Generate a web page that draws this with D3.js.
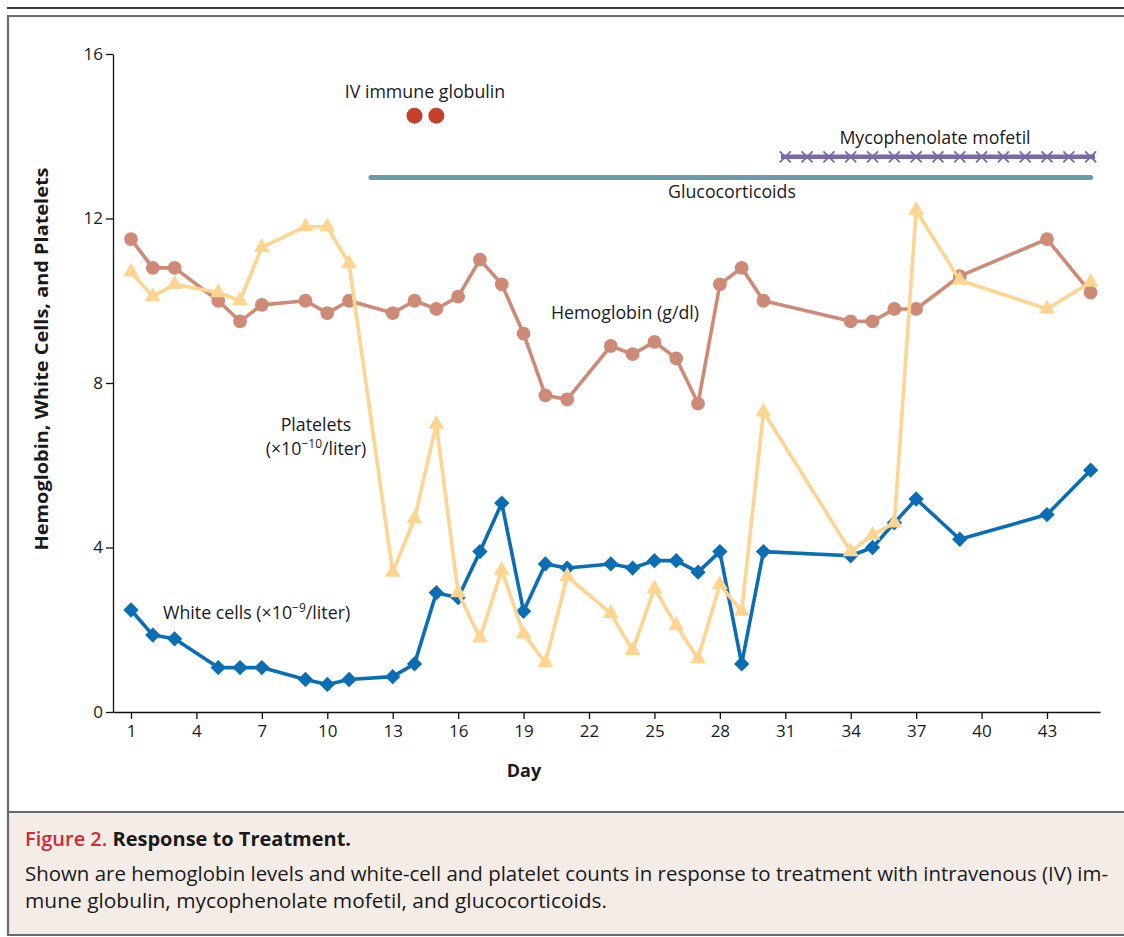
<!DOCTYPE html>
<html>
<head>
<meta charset="utf-8">
<script src="https://cdn.jsdelivr.net/npm/d3@7"></script>
<style>
  html, body { margin: 0; padding: 0; background: #ffffff; }
  svg { display: block; }
  text { font-family: "Open Sans", "DejaVu Sans", sans-serif; fill: #1a1a1a; }
</style>
</head>
<body>
<svg id="chart" width="1124" height="937"></svg>
<script>
// ---------------- DATA ----------------
const hbDays = [1,2,3,5,6,7,9,10,11,13,14,15,16,17,18,19,20,21,23,24,25,26,27,28,29,30,34,35,36,37,39,43,45];
const hbValues = [11.5,10.8,10.8,10.0,9.5,9.9,10.0,9.7,10.0,9.7,10.0,9.8,10.1,11.0,10.4,9.2,7.7,7.6,8.9,8.7,9.0,8.6,7.5,10.4,10.8,10.0,9.5,9.5,9.8,9.8,10.6,11.5,10.2];

const pltDays = [1,2,3,5,6,7,9,10,11,13,14,15,16,17,18,19,20,21,23,24,25,26,27,28,29,30,34,35,36,37,39,43,45];
const pltValues = [10.7,10.1,10.4,10.2,10.0,11.3,11.8,11.8,10.9,3.4,4.7,7.0,2.9,1.8,3.45,1.9,1.2,3.3,2.4,1.5,3.0,2.1,1.3,3.1,2.45,7.3,3.9,4.3,4.6,12.2,10.5,9.8,10.45];

const wbcDays = [1,2,3,5,6,7,9,10,11,13,14,15,16,17,18,19,20,21,23,24,25,26,27,28,29,30,34,35,36,37,39,43,45];
const wbcValues = [2.48,1.87,1.78,1.08,1.08,1.08,0.79,0.67,0.79,0.86,1.17,2.9,2.78,3.9,5.08,2.45,3.6,3.5,3.6,3.5,3.68,3.68,3.4,3.9,1.17,3.9,3.8,4.0,4.6,5.18,4.2,4.8,5.88];

const ivDays = [14, 15];
const ivLevel = 14.5;
const glucoRange = [12, 45];
const glucoLevel = 13.0;
const mycoRange = [30.8, 45.2];
const mycoMarkDays = [31,32,33,34,35,36,37,38,39,40,41,42,43,44,45];
const mycoLevel = 13.5;

const xTicks = [1,4,7,10,13,16,19,22,25,28,31,34,37,40,43];
const yTicks = [0,4,8,12,16];

// ---------------- SETUP ----------------
const svg = d3.select("#chart");
const LABEL_FS = 17.8;

// frame
svg.append("line").attr("x1", 7).attr("x2", 1124).attr("y1", 8).attr("y2", 8)
  .attr("stroke", "#3c3c3c").attr("stroke-width", 2);
svg.append("rect").attr("x", 8).attr("y", 812).attr("width", 1130).attr("height", 123)
  .attr("fill", "#f3ece7");
svg.append("path")
  .attr("d", "M1130,16 H8 V935 H1130 M8,812 H1130")
  .attr("fill", "none").attr("stroke", "#6a6a6a").attr("stroke-width", 2.2);

const x = d3.scaleLinear().domain([0.175, 45.43]).range([113, 1100]);
const y = d3.scaleLinear().domain([0, 16]).range([712, 54]);

// axes
const gx = svg.append("g").attr("transform", "translate(0,712)")
  .call(d3.axisBottom(x).tickValues(xTicks).tickSize(7).tickSizeOuter(0).tickPadding(6));
const gy = svg.append("g").attr("transform", "translate(113,0)")
  .call(d3.axisLeft(y).tickValues(yTicks).tickSize(7).tickSizeOuter(0).tickPadding(3));
[gx, gy].forEach(g => {
  g.select(".domain").attr("stroke", "#111").attr("stroke-width", 1.3);
  g.selectAll(".tick line").attr("stroke", "#111").attr("stroke-width", 1.3);
  g.selectAll(".tick text").attr("font-size", 17).attr("fill", "#1a1a1a")
    .style("font-family", '"Open Sans", sans-serif');
});

// axis titles
svg.append("text").attr("x", 524).attr("y", 777).attr("text-anchor", "middle")
  .attr("font-size", 18).attr("font-weight", 700).text("Day");
svg.append("text").attr("transform", "translate(48,359) rotate(-90)").attr("text-anchor", "middle")
  .attr("font-size", 18.5).attr("font-weight", 700)
  .attr("textLength", 383).attr("lengthAdjust", "spacingAndGlyphs")
  .text("Hemoglobin, White Cells, and Platelets");

// ---------------- TREATMENTS ----------------
svg.append("line")
  .attr("x1", x(glucoRange[0])).attr("x2", x(glucoRange[1]))
  .attr("y1", y(glucoLevel)).attr("y2", y(glucoLevel))
  .attr("stroke", "#6b9aab").attr("stroke-width", 5).attr("stroke-linecap", "round");

svg.append("line")
  .attr("x1", x(mycoRange[0])).attr("x2", x(mycoRange[1]))
  .attr("y1", y(mycoLevel)).attr("y2", y(mycoLevel))
  .attr("stroke", "#786aa8").attr("stroke-width", 4.5);
const xm = 5.5;
svg.append("g").selectAll("path").data(mycoMarkDays).join("path")
  .attr("d", d => {
    const cx = x(d), cy = y(mycoLevel);
    return `M${cx-xm},${cy-xm}L${cx+xm},${cy+xm}M${cx-xm},${cy+xm}L${cx+xm},${cy-xm}`;
  })
  .attr("stroke", "#786aa8").attr("stroke-width", 1.8).attr("fill", "none");

svg.append("g").selectAll("circle").data(ivDays).join("circle")
  .attr("cx", d => x(d)).attr("cy", y(ivLevel)).attr("r", 8)
  .attr("fill", "#c2402c");

// ---------------- SERIES ----------------
function drawSeries(days, vals, color, symbolType, size) {
  const data = days.map((d, i) => ({ d, v: vals[i] }));
  const line = d3.line().x(p => x(p.d)).y(p => y(p.v));
  svg.append("path").datum(data).attr("d", line)
    .attr("fill", "none").attr("stroke", color).attr("stroke-width", 3.6)
    .attr("stroke-linejoin", "round");
  svg.append("g").selectAll("path").data(data).join("path")
    .attr("transform", p => `translate(${x(p.d)},${y(p.v)})`)
    .attr("d", d3.symbol().type(symbolType).size(size))
    .attr("fill", color);
}
drawSeries(hbDays, hbValues, "#cd8b77", d3.symbolCircle, 150);
drawSeries(wbcDays, wbcValues, "#0b6db3", d3.symbolDiamond2 || d3.symbolDiamond, 150);
drawSeries(pltDays, pltValues, "#fdd590", d3.symbolTriangle, 110);

// ---------------- LABELS ----------------
function label(tx, ty, anchor, txt) {
  return svg.append("text").attr("x", tx).attr("y", ty).attr("text-anchor", anchor)
    .attr("font-size", LABEL_FS).text(txt);
}
label(425, 98, "middle", "IV immune globulin");
label(732, 198, "middle", "Glucocorticoids");
label(935, 144, "middle", "Mycophenolate mofetil");
label(551, 319, "start", "Hemoglobin (g/dl)");
label(316, 431, "middle", "Platelets");

const pl = svg.append("text").attr("x", 316).attr("y", 455).attr("text-anchor", "middle").attr("font-size", LABEL_FS);
pl.append("tspan").text("(×10");
pl.append("tspan").attr("dy", -7).attr("font-size", 12).text("−10");
pl.append("tspan").attr("dy", 7).text("/liter)");

const wl = svg.append("text").attr("x", 163).attr("y", 619).attr("text-anchor", "start").attr("font-size", LABEL_FS);
wl.append("tspan").text("White cells (×10");
wl.append("tspan").attr("dy", -7).attr("font-size", 12).text("−9");
wl.append("tspan").attr("dy", 7).text("/liter)");

// ---------------- CAPTION ----------------
const cap = svg.append("text").attr("x", 25).attr("y", 846).attr("font-size", 20);
cap.append("tspan").attr("fill", "#d22a35").style("fill", "#d22a35").attr("font-weight", 600).text("Figure 2. ");
cap.append("tspan").attr("font-weight", 700).text("Response to Treatment.");

svg.append("text").attr("x", 25).attr("y", 881).attr("font-size", 20)
  .attr("textLength", 1083).attr("lengthAdjust", "spacingAndGlyphs")
  .text("Shown are hemoglobin levels and white-cell and platelet counts in response to treatment with intravenous (IV) im-");
svg.append("text").attr("x", 25).attr("y", 908).attr("font-size", 20)
  .attr("textLength", 582).attr("lengthAdjust", "spacingAndGlyphs")
  .text("mune globulin, mycophenolate mofetil, and glucocorticoids.");
</script>
</body>
</html>
